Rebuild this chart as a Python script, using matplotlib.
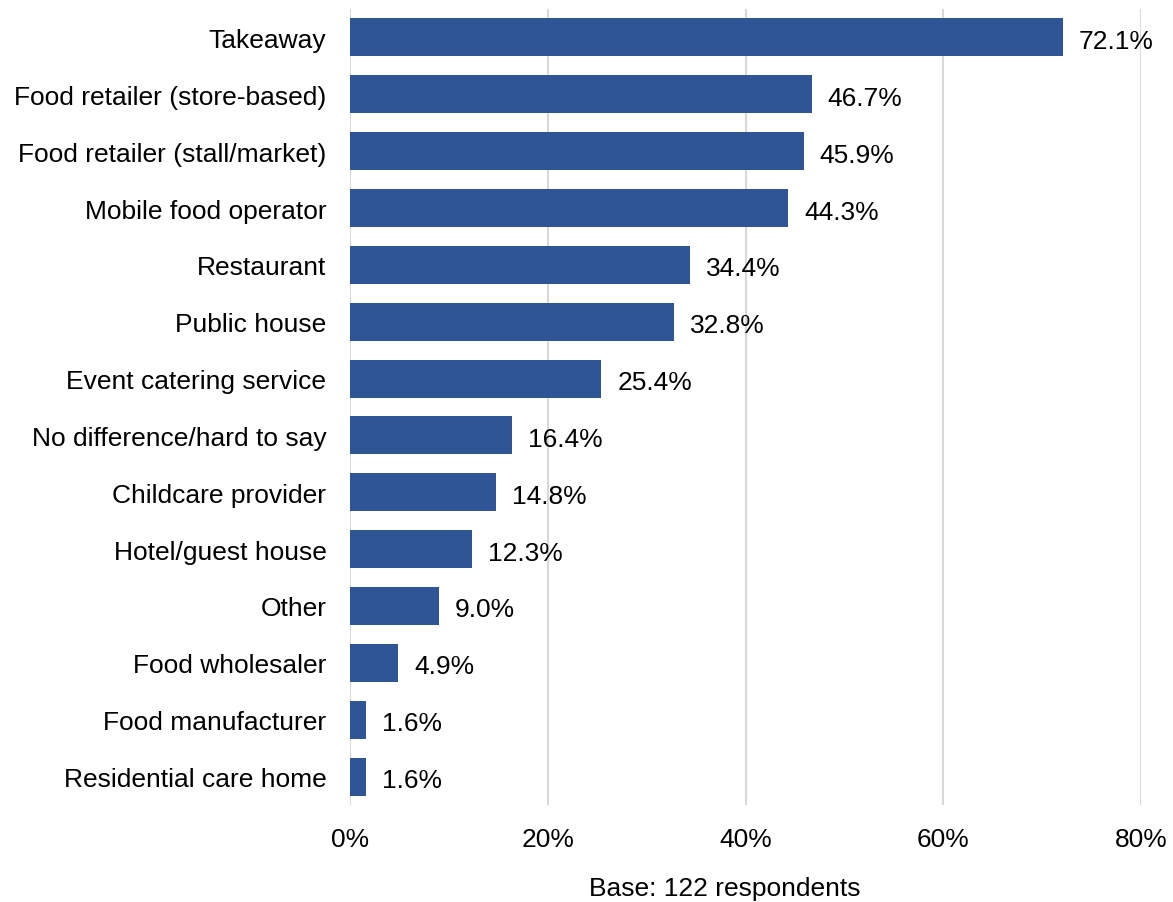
import matplotlib.pyplot as plt
from matplotlib.ticker import FuncFormatter

categories = [
    "Takeaway",
    "Food retailer (store-based)",
    "Food retailer (stall/market)",
    "Mobile food operator",
    "Restaurant",
    "Public house",
    "Event catering service",
    "No difference/hard to say",
    "Childcare provider",
    "Hotel/guest house",
    "Other",
    "Food wholesaler",
    "Food manufacturer",
    "Residential care home",
]
percentages = [72.1, 46.7, 45.9, 44.3, 34.4, 32.8, 25.4, 16.4, 14.8, 12.3, 9.0, 4.9, 1.6, 1.6]
x_ticks = [0, 20, 40, 60, 80]

plt.rcParams["font.family"] = ["Liberation Sans", "DejaVu Sans"]
FS = 19

fig = plt.figure(figsize=(11.73, 9.03), dpi=100)
ax = fig.add_axes([350 / 1173, 1 - 806 / 903, (1141 - 350) / 1173, (806 - 10) / 903])

ypos = list(range(len(categories)))
bars = ax.barh(ypos, percentages, height=0.67, color="#2F5597", zorder=2)

# value labels just right of each bar
for bar, val in zip(bars, percentages):
    ax.annotate(f"{val:.1f}%", (bar.get_width(), bar.get_y() + bar.get_height() / 2),
                xytext=(16, -1), textcoords="offset pixels",
                va="center_baseline", ha="left", fontsize=FS, color="black", zorder=3)

ax.set_xlim(0, 80)
ax.set_ylim(len(categories) - 0.5, -0.5)
ax.set_yticks(ypos)
ax.set_yticklabels(categories, fontsize=FS)
ax.set_xticks(x_ticks)
ax.xaxis.set_major_formatter(FuncFormatter(lambda v, _: f"{v:.0f}%"))
ax.tick_params(axis="x", labelsize=FS, length=0, pad=16)
ax.tick_params(axis="y", length=0, pad=17)

ax.grid(axis="x", color="#D9D9D9", linewidth=1.5, zorder=0)
for spine in ax.spines.values():
    spine.set_visible(False)

fig.text(725 / 1173, 1 - 889 / 903, "Base: 122 respondents", ha="center", va="center",
         fontsize=FS)

fig.savefig("out.png", dpi=100)
